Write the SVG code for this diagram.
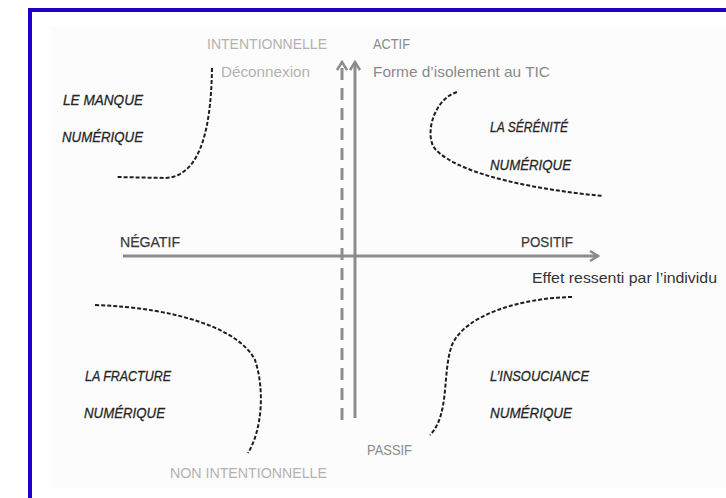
<svg xmlns="http://www.w3.org/2000/svg" width="726" height="498" viewBox="0 0 726 498">
<style>
.lbl{font-family:"Liberation Sans",Arial,sans-serif;font-size:14.5px}
.q{font-style:italic;fill:#262626;stroke:#262626;stroke-width:0.3;font-size:15px}
.g1{fill:#b3b3b3}
.g2{fill:#8a8a8a}
.dk{fill:#3a3a3a;stroke:#3a3a3a;stroke-width:0.25}
.dn{fill:#333333}
.axis{stroke:#8c8c8c;stroke-width:3;fill:none}
.curve{stroke:#1e1e1e;stroke-width:2;stroke-dasharray:4 2;fill:none}
</style>
<defs>
<marker id="arr" viewBox="0 0 12 12" refX="10" refY="6" markerWidth="12" markerHeight="12" markerUnits="userSpaceOnUse" orient="auto">
<path d="M2,1 L10,6 L2,11" fill="none" stroke="#8c8c8c" stroke-width="2.5"/>
</marker>
</defs>
<rect x="0" y="0" width="726" height="498" fill="#ffffff"/>
<rect x="50" y="26" width="676" height="462" fill="#fcfcfc"/>
<rect x="30" y="10" width="720" height="520" fill="none" stroke="#2200c8" stroke-width="4"/>
<g id="connectors">
<line class="axis" x1="123" y1="256" x2="598" y2="256" marker-end="url(#arr)"/>
<line class="axis" x1="355" y1="418" x2="355" y2="62" marker-end="url(#arr)"/>
<line class="axis" x1="342" y1="420" x2="342" y2="62" stroke-dasharray="12 8" marker-end="url(#arr)"/>
<path class="curve" d="M212,68 C211,140 196,176 166,178 L116,177"/>
<path class="curve" d="M457,92 C432,100 424,138 436,150 C462,176 540,190 603,196"/>
<path class="curve" d="M95,305 C180,308 240,330 255,360 C265,390 262,430 248,453"/>
<path class="curve" d="M572,297 C520,298 465,315 452,345 C442,372 450,415 430,435"/>
</g>
<g id="intentionnelle"><text class="lbl g1" x="207" y="49" textLength="120" lengthAdjust="spacingAndGlyphs">INTENTIONNELLE</text></g>
<g id="actif"><text class="lbl g2" x="373" y="49" textLength="37" lengthAdjust="spacingAndGlyphs">ACTIF</text></g>
<g id="deconnexion"><text class="lbl g1" x="221" y="77" textLength="89" lengthAdjust="spacingAndGlyphs">Déconnexion</text></g>
<g id="forme"><text class="lbl g2" x="373" y="77" textLength="177" lengthAdjust="spacingAndGlyphs">Forme d’isolement au TIC</text></g>
<g id="manque">
<text class="lbl q" x="63" y="105" textLength="80" lengthAdjust="spacingAndGlyphs">LE MANQUE</text>
<text class="lbl q" x="62" y="142" textLength="81" lengthAdjust="spacingAndGlyphs">NUMÉRIQUE</text>
</g>
<g id="serenite">
<text class="lbl q" x="490" y="132" textLength="78" lengthAdjust="spacingAndGlyphs">LA SÉRÉNITÉ</text>
<text class="lbl q" x="490" y="170" textLength="81" lengthAdjust="spacingAndGlyphs">NUMÉRIQUE</text>
</g>
<g id="negatif"><text class="lbl dk" x="120" y="247" textLength="60" lengthAdjust="spacingAndGlyphs">NÉGATIF</text></g>
<g id="positif"><text class="lbl dk" x="521" y="247" textLength="52" lengthAdjust="spacingAndGlyphs">POSITIF</text></g>
<g id="effet"><text class="lbl dn" x="532" y="283" textLength="185" lengthAdjust="spacingAndGlyphs">Effet ressenti par l’individu</text></g>
<g id="fracture">
<text class="lbl q" x="85" y="381" textLength="86" lengthAdjust="spacingAndGlyphs">LA FRACTURE</text>
<text class="lbl q" x="84" y="418" textLength="81" lengthAdjust="spacingAndGlyphs">NUMÉRIQUE</text>
</g>
<g id="insouciance">
<text class="lbl q" x="490" y="381" textLength="99" lengthAdjust="spacingAndGlyphs">L’INSOUCIANCE</text>
<text class="lbl q" x="490" y="418" textLength="82" lengthAdjust="spacingAndGlyphs">NUMÉRIQUE</text>
</g>
<g id="non-intentionnelle"><text class="lbl g1" x="170" y="478" textLength="157" lengthAdjust="spacingAndGlyphs">NON INTENTIONNELLE</text></g>
<g id="passif"><text class="lbl g2" x="367" y="455" textLength="45" lengthAdjust="spacingAndGlyphs">PASSIF</text></g>
</svg>
